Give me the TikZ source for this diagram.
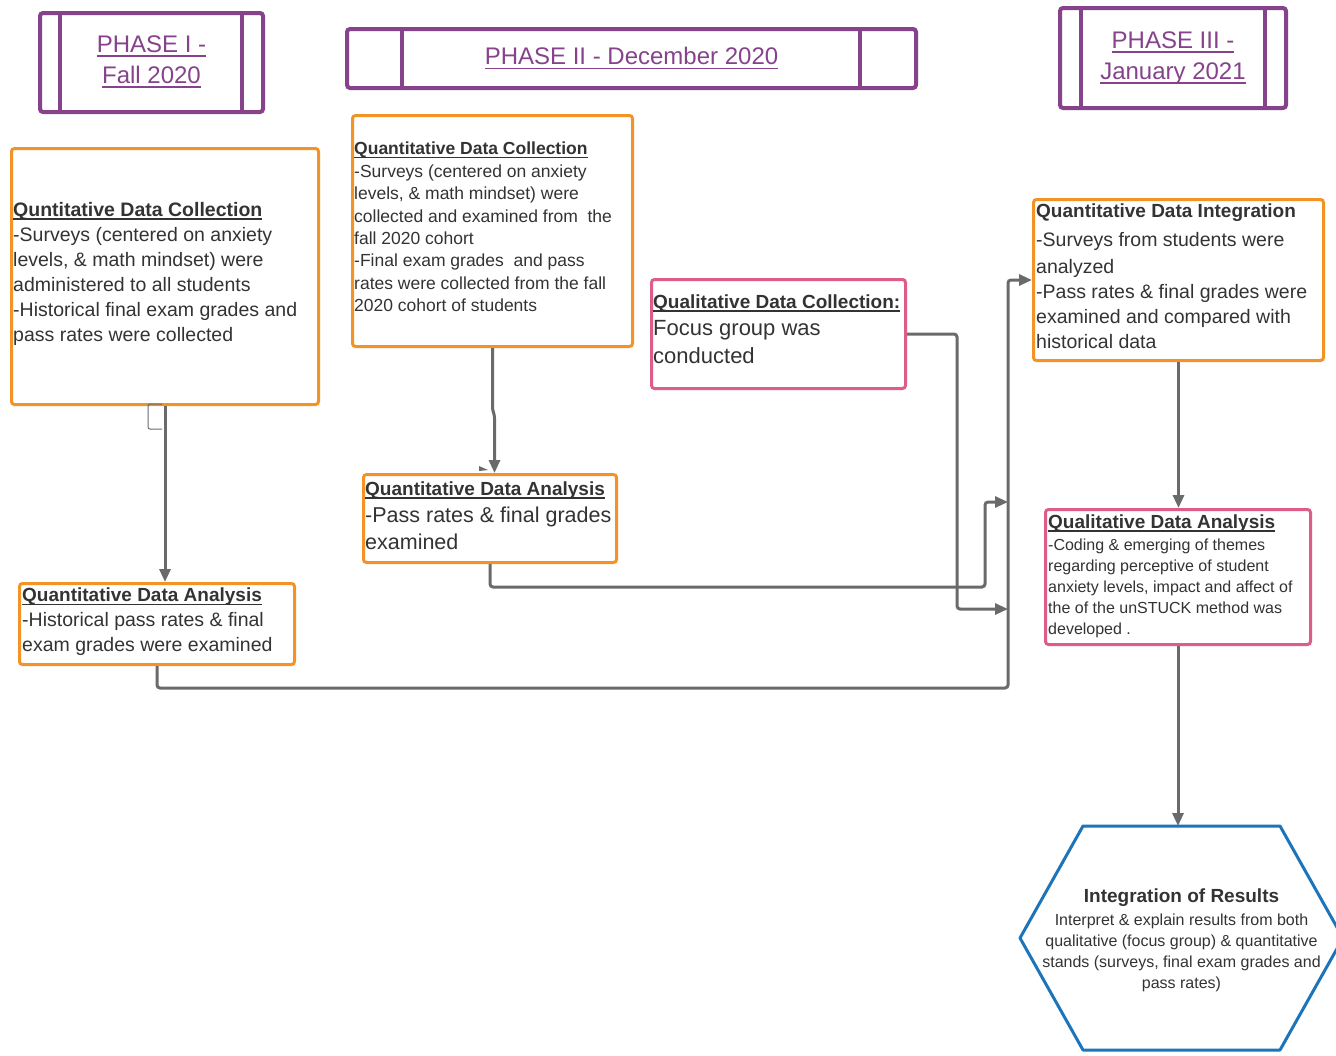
\documentclass[tikz,border=0pt]{standalone}
\usepackage{fontspec}
\setmainfont{Liberation Sans}
\usetikzlibrary{arrows.meta}
\definecolor{phpurple}{HTML}{86438C}
\definecolor{borange}{HTML}{F39325}
\definecolor{bpink}{HTML}{DE5C88}
\definecolor{hexblue}{HTML}{1C74BA}
\definecolor{lgray}{HTML}{6A6A6A}
\definecolor{tgray}{HTML}{333333}
\newcommand\myul[1]{\setbox0\hbox{#1}\rlap{\vrule height -1.8pt depth 3.5pt width \wd0}\box0}
\newcommand\myulph[1]{\setbox0\hbox{#1}\rlap{\vrule height -2.8pt depth 4.4pt width \wd0}\box0}
\begin{document}
\begin{tikzpicture}[x=1pt,y=-1pt,
  phasebox/.style={draw=phpurple, line width=4pt, rounded corners=3pt, inner sep=0pt},
  phtxt/.style={text=phpurple, align=center, inner sep=0pt, font=\fontsize{24}{31}\selectfont},
  phline/.style={draw=phpurple, line width=4pt},
  obox/.style={draw=borange, line width=3pt, rounded corners=3pt, inner sep=0pt, anchor=north west},
  pbox/.style={draw=bpink, line width=3pt, rounded corners=3pt, inner sep=0pt, anchor=north west},
  txt/.style={text=tgray, align=left, inner sep=0pt, anchor=west},
  arr/.style={draw=lgray, line width=3pt, rounded corners=3pt, -{Triangle[length=13pt,width=11pt]}},
]
\useasboundingbox (0,0) rectangle (1336,1055);
\fill[white] (0,0) rectangle (1336,1055);
\clip (0,0) rectangle (1336,1055);

% phase headers
\node[phasebox, minimum width=223pt, minimum height=99pt] (ph1) at (151.5,62.5) {};
\node[phtxt] (ph1t) at ([yshift=1pt]ph1.center) {\myulph{PHASE I -}\\\myulph{Fall 2020}};
\draw[phline] ([xshift=22pt]ph1.north west) -- ([xshift=22pt]ph1.south west);
\draw[phline] ([xshift=-23pt]ph1.north east) -- ([xshift=-23pt]ph1.south east);

\node[phasebox, minimum width=569pt, minimum height=59pt] (ph2) at (631.5,58.5) {};
\node[phtxt] (ph2t) at (ph2.center) {\myulph{PHASE II - December 2020}};
\draw[phline] ([xshift=57pt]ph2.north west) -- ([xshift=57pt]ph2.south west);
\draw[phline] ([xshift=-58pt]ph2.north east) -- ([xshift=-58pt]ph2.south east);

\node[phasebox, minimum width=226pt, minimum height=100pt] (ph3) at (1173,58) {};
\node[phtxt] (ph3t) at (ph3.center) {\myulph{PHASE III -}\\\myulph{January 2021}};
\draw[phline] ([xshift=23pt]ph3.north west) -- ([xshift=23pt]ph3.south west);
\draw[phline] ([xshift=-23pt]ph3.north east) -- ([xshift=-23pt]ph3.south east);

% boxes
\node[obox, minimum width=307pt, minimum height=256pt] (qdc1) at (10,147) {};
\node[txt, font=\fontsize{19.5}{25}\selectfont] (qdc1t) at ([xshift=3pt,yshift=3pt]qdc1.west)
 {\myul{\textbf{Quntitative Data Collection}}\\-Surveys (centered on anxiety\\levels, \& math mindset) were\\administered to all students\\-Historical final exam grades and\\pass rates were collected};

\node[obox, minimum width=280pt, minimum height=231pt] (qdc2) at (351,114) {};
\node[txt, font=\fontsize{17.5}{22.4}\selectfont] (qdc2t) at ([xshift=3pt,yshift=4pt]qdc2.west)
 {\myul{\textbf{Quantitative Data Collection}}\\-Surveys (centered on anxiety\\levels, \& math mindset) were\\collected and examined from\ \ the\\fall 2020 cohort\\-Final exam grades\ \ and pass\\rates were collected from the fall\\2020 cohort of students};

\node[obox, minimum width=253pt, minimum height=88pt] (qda2) at (362,473) {};
\node[txt, font=\fontsize{21.5}{27}\selectfont] (qda2t) at ([xshift=3pt,yshift=3pt]qda2.west)
 {{\fontsize{19}{27}\selectfont\myul{\textbf{Quantitative Data Analysis}}}\\-Pass rates \& final grades\\examined};

\node[pbox, minimum width=254pt, minimum height=109pt] (qlc) at (650,278) {};
\node[txt, font=\fontsize{22}{27.5}\selectfont] (qlct) at ([xshift=3pt,yshift=5pt]qlc.west)
 {{\fontsize{19}{27.5}\selectfont\myul{\textbf{Qualitative Data Collection:}}}\\Focus group was\\conducted};

\node[obox, minimum width=290pt, minimum height=161pt] (qdi) at (1032,198) {};
\node[txt, font=\fontsize{19.5}{25}\selectfont] (qdit) at ([xshift=4pt,yshift=4pt]qdi.west)
 {{\fontsize{19}{25}\selectfont\textbf{Quantitative Data Integration}}\\[4pt]-Surveys from students were\\[2pt]analyzed\\-Pass rates \& final grades were\\examined and compared with\\historical data};

\node[pbox, minimum width=265pt, minimum height=135pt] (qla) at (1044,508) {};
\node[txt, font=\fontsize{16}{21}\selectfont] (qlat) at ([xshift=4pt,yshift=1pt]qla.west)
 {{\fontsize{19}{21}\selectfont\myul{\textbf{Qualitative Data Analysis}}}\\[1pt]-Coding \& emerging of themes\\regarding perceptive of student\\anxiety levels, impact and affect of\\the of the unSTUCK method was\\developed .};

\node[obox, minimum width=275pt, minimum height=81pt] (qda1) at (18,582) {};
\node[txt, font=\fontsize{19.5}{25}\selectfont] (qda1t) at ([xshift=4pt,yshift=2pt]qda1.west)
 {{\fontsize{19}{25}\selectfont\myul{\textbf{Quantitative Data Analysis}}}\\-Historical pass rates \& final\\exam grades were examined};

% hexagon
\draw[draw=hexblue, line width=3pt, line join=round] (1083,826) -- (1280,826) -- (1343,938) -- (1280,1050) -- (1083,1050) -- (1020,938) -- cycle;
\coordinate (hextop) at (1177,826);
\node[text=tgray, align=center, inner sep=0pt, font=\fontsize{16}{21}\selectfont] (hex) at (1181.5,940)
 {{\fontsize{19}{21}\selectfont\textbf{Integration of Results}}\\[2pt]Interpret \& explain results from both\\qualitative (focus group) \& quantitative\\stands (surveys, final exam grades and\\pass rates)};

% connectors
\coordinate (j1) at (1008,502);
\coordinate (j2) at (1008,609);
\draw[arr] (qdc1.south) -- (qdc1.south |- qda1.north);
\draw[lgray, line width=1pt, rounded corners=2pt] (162,404) -- (148,404) -- (148,429) -- (162,429);
\draw[arr] (qdc2.south) -- ++(0,62) -- ++(2,5) -- ([xshift=4.5pt]qda2.north);
\fill[lgray] (479,466) -- (488,470) -- (479,471) -- cycle;
\draw[arr] (qda2.south) |- (985,587) -- (985,502) -- (j1);
\draw[arr] (qlc.east) -| (957,609) -- (j2);
\draw[arr] (qda1.south) |- (1008,688) |- (qdi.west);
\draw[arr] (qdi.south) -- (qdi.south |- qla.north);
\draw[arr] (qla.south) -- (qla.south |- hextop);
\end{tikzpicture}
\end{document}
